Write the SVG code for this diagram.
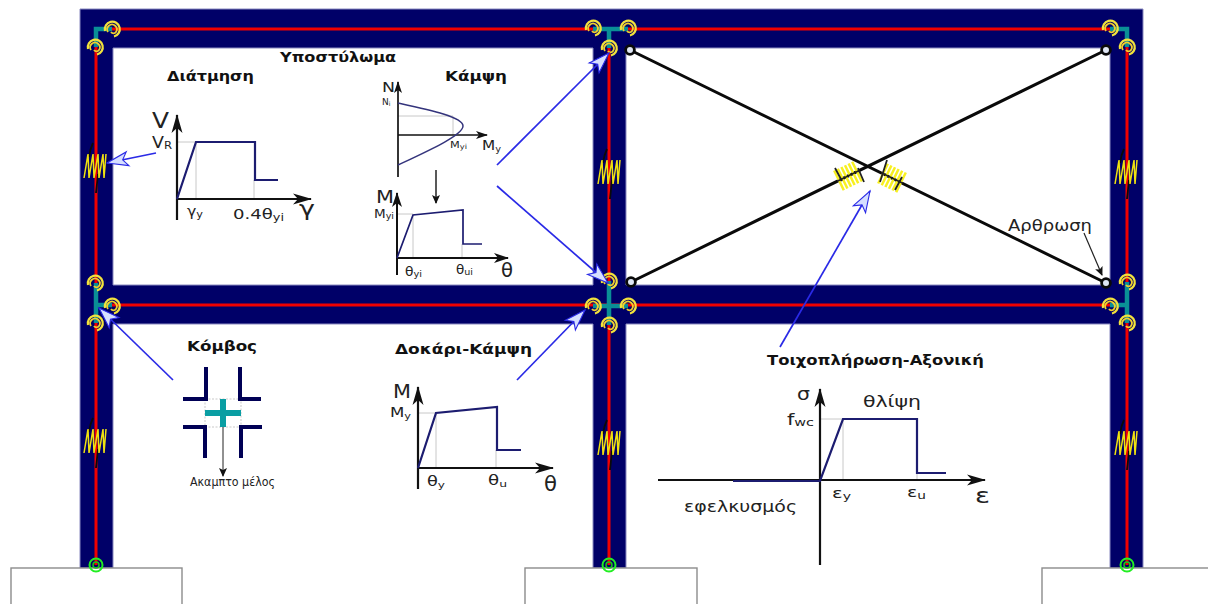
<svg xmlns="http://www.w3.org/2000/svg" xmlns:xlink="http://www.w3.org/1999/xlink" width="1208" height="604" viewBox="0 0 1208 604">
<style>
text{font-family:"DejaVu Sans",sans-serif;fill:#222}
.t{font-weight:bold;font-size:14.5px;fill:#111}
.red{stroke:#f00000;stroke-width:3;fill:none}
.teal{stroke:#0a8f96;stroke-width:4.5;fill:none}
.blue{stroke:#2a2ae6;stroke-width:1.7;fill:none;marker-end:url(#bh)}
.ax{stroke:#111;stroke-width:2;fill:none}
.axa{stroke:#111;stroke-width:2.2;fill:none;marker-end:url(#ah)}
.axm{stroke:#111;stroke-width:2;fill:none;marker-end:url(#am)}
.axs{stroke:#111;stroke-width:1.7;fill:none;marker-end:url(#as)}
.cv{stroke:#1c1c70;stroke-width:2.2;fill:none;stroke-linejoin:miter}
.dot{stroke:#c8c8c8;stroke-width:1;fill:none}
.diag{stroke:#0a0a0a;stroke-width:3;fill:none}
.pin{fill:#dfe6f5;stroke:#0a0a0a;stroke-width:2.8}
.nv{stroke:#000055;stroke-width:4;fill:none}
.foot{fill:#fff;stroke:#8c8c8c;stroke-width:1.4}
</style>
<defs>
<marker id="bh" markerUnits="userSpaceOnUse" markerWidth="26" markerHeight="18" refX="22" refY="8" orient="auto" overflow="visible"><path d="M1,1 L22,8 L1,15 L6,8 Z" fill="#d6dfff" stroke="#2a2ae6" stroke-width="1.1"/></marker>
<marker id="ah" markerUnits="userSpaceOnUse" markerWidth="22" markerHeight="14" refX="18" refY="6" orient="auto" overflow="visible"><path d="M0,0.5 L19,6 L0,11.5 L5,6 Z" fill="#111"/></marker>
<marker id="am" markerUnits="userSpaceOnUse" markerWidth="18" markerHeight="12" refX="14" refY="5" orient="auto" overflow="visible"><path d="M0,0 L15,5 L0,10 L4,5 Z" fill="#111"/></marker>
<marker id="as" markerUnits="userSpaceOnUse" markerWidth="14" markerHeight="10" refX="11" refY="4" orient="auto" overflow="visible"><path d="M0,0 L12,4 L0,8 L3,4 Z" fill="#111"/></marker>
<marker id="th" markerUnits="userSpaceOnUse" markerWidth="10" markerHeight="10" refX="8" refY="4" orient="auto" overflow="visible"><path d="M0,0 L9,4 L0,8 L2,4 Z" fill="#111"/></marker>
<g id="sp"><path d="M-7,2 A7.5,7.5 0 1 1 2,7.5" fill="none" stroke="#f2e23c" stroke-width="2.2"/><path d="M-4,3 A4.8,4.8 0 1 1 4,3 A3,3 0 0 1 -1,3" fill="none" stroke="#f0cf2c" stroke-width="1.8"/></g>
<g id="gr"><circle r="6.5" fill="none" stroke="#22ee22" stroke-width="2"/><circle r="3" fill="none" stroke="#18c818" stroke-width="1.5"/></g>
<g id="spring"><path d="M-2,-23 Q-5,-17 -6,-9 M3,8 Q2,18 1,27" fill="none" stroke="#0a0a0a" stroke-width="1.8"/><path d="M-11,12 L-7,-12 L-6,12 L-2,-12 L-1,12 L3,-12 L4,12 L8,-12 L9,12 L11,-12" fill="none" stroke="#f0e210" stroke-width="1.5"/></g>
<g id="axial"><path d="M-10,-11 V11 M-6,-11 V11 M-2,-11 V11 M2,-11 V11 M6,-11 V11 M10,-11 V11" fill="none" stroke="#f8f020" stroke-width="2.5"/><path d="M-12,0 H12" stroke="#222" stroke-width="1.6"/></g>
</defs>
<rect width="1208" height="604" fill="#fff"/>
<g id="frame"><path fill="#000068" fill-rule="evenodd" stroke="#8a8ac0" stroke-width="1" d="M80,568 V9 H1143 V568 H1110 V324 H626 V568 H593 V324 H113 V568 Z M113,48 H593 V285 H113 Z M626,48 H1110 V285 H626 Z"/></g>
<g id="footings"><rect class="foot" x="11" y="568" width="171" height="40"/><rect class="foot" x="525" y="568" width="172" height="40"/><rect class="foot" x="1042" y="568" width="170" height="40"/></g>
<g id="members">
<path class="red" d="M112,29 H1110 M112,305 H1110 M96,47 V565 M609,48 V565 M1127,47 V565"/>
<path class="teal" d="M96,47 V29 H112 M96,283 V323 M96,305 H112 M593,29 H628 M609,29 V48 M609,281 V325 M593,306 H628 M1110,29 H1127 V47 M1127,282 V323 M1110,305 H1127"/>
</g>
<g id="joints">
<use xlink:href="#sp" x="112" y="29"/><use xlink:href="#sp" x="95" y="47"/><use xlink:href="#sp" x="95" y="283"/><use xlink:href="#sp" x="112" y="306"/><use xlink:href="#sp" x="95" y="323"/>
<use xlink:href="#sp" x="593" y="28"/><use xlink:href="#sp" x="628" y="28"/><use xlink:href="#sp" x="609" y="48"/><use xlink:href="#sp" x="609" y="281"/><use xlink:href="#sp" x="593" y="306"/><use xlink:href="#sp" x="628" y="306"/><use xlink:href="#sp" x="609" y="325"/>
<use xlink:href="#sp" x="1110" y="28"/><use xlink:href="#sp" x="1127" y="47"/><use xlink:href="#sp" x="1127" y="282"/><use xlink:href="#sp" x="1110" y="306"/><use xlink:href="#sp" x="1127" y="323"/>
<use xlink:href="#gr" x="96" y="565"/><use xlink:href="#gr" x="609" y="565"/><use xlink:href="#gr" x="1127" y="565"/>
</g>
<g id="springs">
<use xlink:href="#spring" x="95" y="166"/><use xlink:href="#spring" x="609" y="172"/><use xlink:href="#spring" x="1126" y="172"/><use xlink:href="#spring" x="95" y="441"/><use xlink:href="#spring" x="609" y="443"/><use xlink:href="#spring" x="1126" y="443"/>
</g>
<g id="infill">
<path class="diag" d="M630,50 L1106,283 M631,282 L1106,50"/>
<use xlink:href="#axial" transform="translate(848,176) rotate(-26)"/>
<use xlink:href="#axial" transform="translate(892,178) rotate(26)"/>
<path d="M835,168 L842,181 M858,168 L864,182 M887,160 L880,182 M902,177 L895,190" stroke="#222" stroke-width="1.8" fill="none"/>
<circle class="pin" cx="630" cy="50" r="4.4"/><circle class="pin" cx="1106" cy="50" r="4.4"/><circle class="pin" cx="631" cy="282" r="4.4"/><circle class="pin" cx="1106" cy="283" r="4.4"/>
</g>
<g id="connectors">
<path class="blue" d="M156,153 L107,163"/>
<path class="blue" d="M497,165 L609,53"/>
<path class="blue" d="M497,186 L608,283"/>
<path class="blue" d="M173,380 L99,308"/>
<path class="blue" d="M517,380 L585,310"/>
<path class="blue" d="M780,347 L870,191"/>
<path d="M1084,233 L1102,275" stroke="#222" stroke-width="1.2" fill="none" marker-end="url(#th)"/>
</g>
<g id="shear">
<text class="t" x="167" y="81" textLength="87" lengthAdjust="spacingAndGlyphs">Διάτμηση</text>
<path class="dot" d="M177,142 H196 V199 M254,180 V199"/>
<path class="axa" d="M177,220 V115"/><path class="axa" d="M177,199 H311"/>
<path class="cv" d="M177,199 L196,142 H255 V180 H278"/>
<text x="152" y="128" font-size="22" textLength="17" lengthAdjust="spacingAndGlyphs">V</text>
<text x="152" y="148" font-size="15" textLength="20" lengthAdjust="spacingAndGlyphs">V<tspan font-size="10" dy="1">R</tspan></text>
<text x="187" y="216" font-size="14" textLength="16" lengthAdjust="spacingAndGlyphs">γ<tspan font-size="10" dy="2">y</tspan></text>
<text x="233" y="219" font-size="14" textLength="51" lengthAdjust="spacingAndGlyphs">0.4θ<tspan font-size="10" dy="2">yi</tspan></text>
<text x="299" y="216" font-size="22" textLength="16" lengthAdjust="spacingAndGlyphs">γ</text>
</g>
<g id="column-title"><text class="t" x="280" y="62" textLength="116" lengthAdjust="spacingAndGlyphs">Υποστύλωμα</text></g>
<g id="bending">
<text class="t" x="445" y="81" textLength="62" lengthAdjust="spacingAndGlyphs">Κάμψη</text>
<path class="dot" d="M398,116 H453 V135"/>
<path class="axs" d="M398,177 V82" /><path class="axs" d="M398,135 H487"/>
<path d="M398,103 C430,110 463,117 463,126 C463,135 430,150 398,165" fill="none" stroke="#34347c" stroke-width="1.5"/>
<text x="382" y="92" font-size="14" textLength="13" lengthAdjust="spacingAndGlyphs">N</text>
<text x="382" y="105" font-size="9">N<tspan font-size="6" dy="1">i</tspan></text>
<text x="450" y="148" font-size="9.5" textLength="17" lengthAdjust="spacingAndGlyphs">M<tspan font-size="7" dy="1">yi</tspan></text>
<text x="482" y="150" font-size="14" textLength="19" lengthAdjust="spacingAndGlyphs">M<tspan font-size="9" dy="2">y</tspan></text>
<path d="M436,170 V203" stroke="#222" stroke-width="1.5" fill="none" marker-end="url(#th)"/>
<path class="dot" d="M397,214 H413 V258 M462,244 V258"/>
<path class="axm" d="M397,275 V193"/><path class="axm" d="M397,258 H508"/>
<path class="cv" d="M397,258 L413,215 L463,210 V244 H482" style="stroke-width:1.7"/>
<text x="376" y="203" font-size="18" textLength="18" lengthAdjust="spacingAndGlyphs">M</text>
<text x="374" y="218" font-size="12" textLength="20" lengthAdjust="spacingAndGlyphs">M<tspan font-size="8.5" dy="1">yi</tspan></text>
<text x="405" y="276" font-size="12" textLength="17" lengthAdjust="spacingAndGlyphs">θ<tspan font-size="8.5" dy="1">yi</tspan></text>
<text x="456" y="274" font-size="12" textLength="17" lengthAdjust="spacingAndGlyphs">θ<tspan font-size="8.5" dy="1">ui</tspan></text>
<text x="501" y="277" font-size="19" textLength="12" lengthAdjust="spacingAndGlyphs">θ</text>
</g>
<g id="node-detail">
<text class="t" x="187" y="351" textLength="70" lengthAdjust="spacingAndGlyphs">Κόμβος</text>
<rect x="205" y="399" width="36" height="28" fill="none" stroke="#bbb" stroke-width="0.8" stroke-dasharray="2,1.5"/>
<path class="nv" d="M206,367 V399 H183 M240,367 V399 H261 M205,458 V427 H183 M241,458 V427 H262"/>
<path d="M205,413 H241 M223,399 V427" stroke="#0a9ea3" stroke-width="6" fill="none"/>
<path d="M223,427 V476" stroke="#222" stroke-width="1" fill="none" marker-end="url(#th)"/>
<text x="190" y="486" font-size="11.5" textLength="85" lengthAdjust="spacingAndGlyphs">Ακαμπτο μέλος</text>
</g>
<g id="beam-detail">
<text class="t" x="395" y="354" textLength="137" lengthAdjust="spacingAndGlyphs">Δοκάρι-Κάμψη</text>
<path class="dot" d="M418,413 H436 V468 M496,450 V468"/>
<path class="axa" d="M418,489 V387"/><path class="axa" d="M418,468 H553"/>
<path class="cv" d="M418,468 L436,413 L497,407 V450 H521"/>
<text x="393" y="398" font-size="20" textLength="18" lengthAdjust="spacingAndGlyphs">M</text>
<text x="390" y="417" font-size="14" textLength="21" lengthAdjust="spacingAndGlyphs">M<tspan font-size="9.5" dy="2">y</tspan></text>
<text x="427" y="486" font-size="14" textLength="18" lengthAdjust="spacingAndGlyphs">θ<tspan font-size="9.5" dy="2">y</tspan></text>
<text x="488" y="485" font-size="14" textLength="19" lengthAdjust="spacingAndGlyphs">θ<tspan font-size="9.5" dy="2">u</tspan></text>
<text x="544" y="491" font-size="21" textLength="13" lengthAdjust="spacingAndGlyphs">θ</text>
</g>
<g id="infill-detail">
<text class="t" x="767" y="365" textLength="217" lengthAdjust="spacingAndGlyphs">Τοιχοπλήρωση-Αξονική</text>
<path class="dot" d="M820,419 H843 V480 M917,473 V480"/>
<path class="axa" d="M658,480 H985"/><path class="axa" d="M820,565 V389"/>
<path class="cv" d="M733,481 H820 L843,419 H917 V473 H946"/>
<text x="797" y="400" font-size="17" textLength="13" lengthAdjust="spacingAndGlyphs">σ</text>
<text x="787" y="425" font-size="16" textLength="27" lengthAdjust="spacingAndGlyphs">f<tspan font-size="11" dy="1">wc</tspan></text>
<text x="863" y="407" font-size="16" textLength="58" lengthAdjust="spacingAndGlyphs">θλίψη</text>
<text x="832" y="498" font-size="14" textLength="19" lengthAdjust="spacingAndGlyphs">ε<tspan font-size="10" dy="2">y</tspan></text>
<text x="907" y="497" font-size="14" textLength="19" lengthAdjust="spacingAndGlyphs">ε<tspan font-size="10" dy="2">u</tspan></text>
<text x="975" y="503" font-size="22" textLength="15" lengthAdjust="spacingAndGlyphs">ε</text>
<text x="684" y="512" font-size="16" textLength="113" lengthAdjust="spacingAndGlyphs">εφελκυσμός</text>
</g>
<g id="hinge-label"><text x="1008" y="231" font-size="15.5" textLength="84" lengthAdjust="spacingAndGlyphs">Αρθρωση</text></g>
</svg>
